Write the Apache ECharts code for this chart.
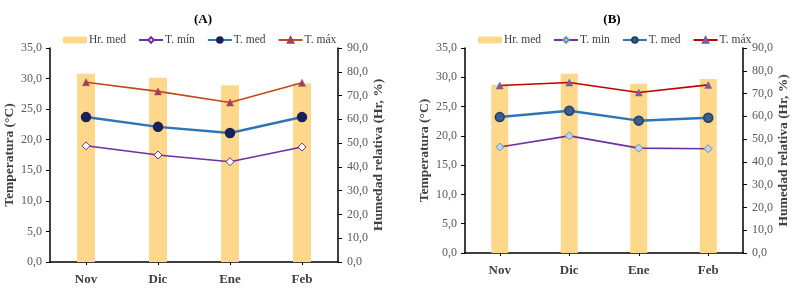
<!DOCTYPE html>
<html><head><meta charset="utf-8">
<script src="https://cdn.jsdelivr.net/npm/echarts@6/dist/echarts.min.js"></script>
<style>html,body{margin:0;padding:0;background:#fff}#c{width:800px;height:289px}</style>
</head><body><div id="c"></div>
<script>
const categories = ['Nov', 'Dic', 'Ene', 'Feb'];
const hrA = [79.2, 77.5, 74.3, 75.2];
const tminA = [19.0, 17.5, 16.4, 18.8];
const tmedA = [23.7, 22.1, 21.1, 23.7];
const tmaxA = [29.4, 27.9, 26.1, 29.3];
const hrB = [73.9, 78.7, 74.2, 76.4];
const tminB = [18.1, 20.0, 17.9, 17.8];
const tmedB = [23.2, 24.3, 22.6, 23.1];
const tmaxB = [28.6, 29.1, 27.4, 28.7];

const serif = 'Liberation Serif';
const fmt = v => v.toFixed(1).replace('.', ',');
const chart = echarts.init(document.getElementById('c'));

function xAx(gi){
  return {type:'category', gridIndex:gi, data:categories,
    axisLine:{lineStyle:{color:'#000', width:1.5}},
    axisTick:{show:true, alignWithLabel:true, length:3, lineStyle:{color:'#000'}},
    axisLabel:{fontFamily:serif, fontWeight:'bold', fontSize:13, color:'#404040', margin:11}};
}
function yAx(gi, pos, max, interval, name){
  return {type:'value', gridIndex:gi, position:pos, min:0, max:max, interval:interval,
    name:name, nameLocation:'middle', nameGap:33,
    nameTextStyle:{fontFamily:serif, fontWeight:'bold', fontSize:13.5, color:'#404040'},
    splitLine:{show:false},
    axisLine:{show:true, lineStyle:{color:'#000', width:1.5}},
    axisTick:{show:true, inside:false, length:4, lineStyle:{color:'#000'}},
    axisLabel:{fontFamily:serif, fontSize:12, color:'#595959', margin: pos==='left'?8:9, formatter:fmt}};
}
function seriesSet(gi, sfx, hr, tmin, tmed, tmax, minName, s){
  return [
    {name:'Hr. med'+sfx, type:'bar', xAxisIndex:gi, yAxisIndex:gi*2+1, data:hr, barWidth:s.bw,
      itemStyle:{color:'#FDD78A'}},
    {name:minName+sfx, type:'line', xAxisIndex:gi, yAxisIndex:gi*2, data:tmin, symbol:'diamond', symbolSize:8,
      lineStyle:{color:'#7030A0', width:1.6}, itemStyle:{color:s.minFill, borderColor:s.minBorder, borderWidth:1}},
    {name:'T. med'+sfx, type:'line', xAxisIndex:gi, yAxisIndex:gi*2, data:tmed, symbol:'circle', symbolSize:9,
      lineStyle:{color:'#2E75B6', width:2.5}, itemStyle:{color:s.medFill, borderColor:s.medBorder, borderWidth:1.5}},
    {name:'T. máx'+sfx, type:'line', xAxisIndex:gi, yAxisIndex:gi*2, data:tmax, symbol:'triangle', symbolSize:7,
      lineStyle:{color:s.maxLine, width:1.6}, itemStyle:{color:s.maxFill, borderColor:s.maxFill, borderWidth:0.5}}
  ];
}
const sA = {bw:18, minFill:'#ffffff', minBorder:'#7030A0', medFill:'#1B1F5A', medBorder:'#1B1F5A', maxLine:'#C4471B', maxFill:'#A0405A'};
const sB = {bw:17, minFill:'#BDD7EE', minBorder:'#6D8FB5', medFill:'#3B5E8E', medBorder:'#23406B', maxLine:'#C00000', maxFill:'#7D5A9E'};

const legendBase = {top:29, itemWidth:24, itemHeight:7, itemGap:12,
  textStyle:{fontFamily:serif, fontSize:11.5, color:'#404040', padding:[0,0,0,-3]}};

chart.setOption({
  animation:false,
  title:[
    {text:'(A)', left:198, top:8, textAlign:'center', textStyle:{fontFamily:serif, fontWeight:'bold', fontSize:13, color:'#000'}},
    {text:'(B)', left:607, top:8, textAlign:'center', textStyle:{fontFamily:serif, fontWeight:'bold', fontSize:13, color:'#000'}}
  ],
  legend:[
    Object.assign({}, legendBase, {left:58, data:['Hr. med', 'T. mín', 'T. med', 'T. máx'],
      formatter: n => n}),
    Object.assign({}, legendBase, {left:473, data:['Hr. med ', 'T. min ', 'T. med ', 'T. máx '],
      formatter: n => n.trim()})
  ],
  grid:[
    {left:50, top:48, width:288, height:214},
    {left:465, top:48, width:278, height:205}
  ],
  xAxis:[xAx(0), xAx(1)],
  yAxis:[
    yAx(0,'left',35,5,'Temperatura (°C)'),
    yAx(0,'right',90,10,'Humedad relativa (Hr, %)'),
    yAx(1,'left',35,5,'Temperatura (°C)'),
    yAx(1,'right',90,10,'Humedad relativa (Hr, %)')
  ],
  series:[].concat(
    seriesSet(0,'',hrA,tminA,tmedA,tmaxA,'T. mín',sA),
    seriesSet(1,' ',hrB,tminB,tmedB,tmaxB,'T. min',sB)
  )
});
</script></body></html>
